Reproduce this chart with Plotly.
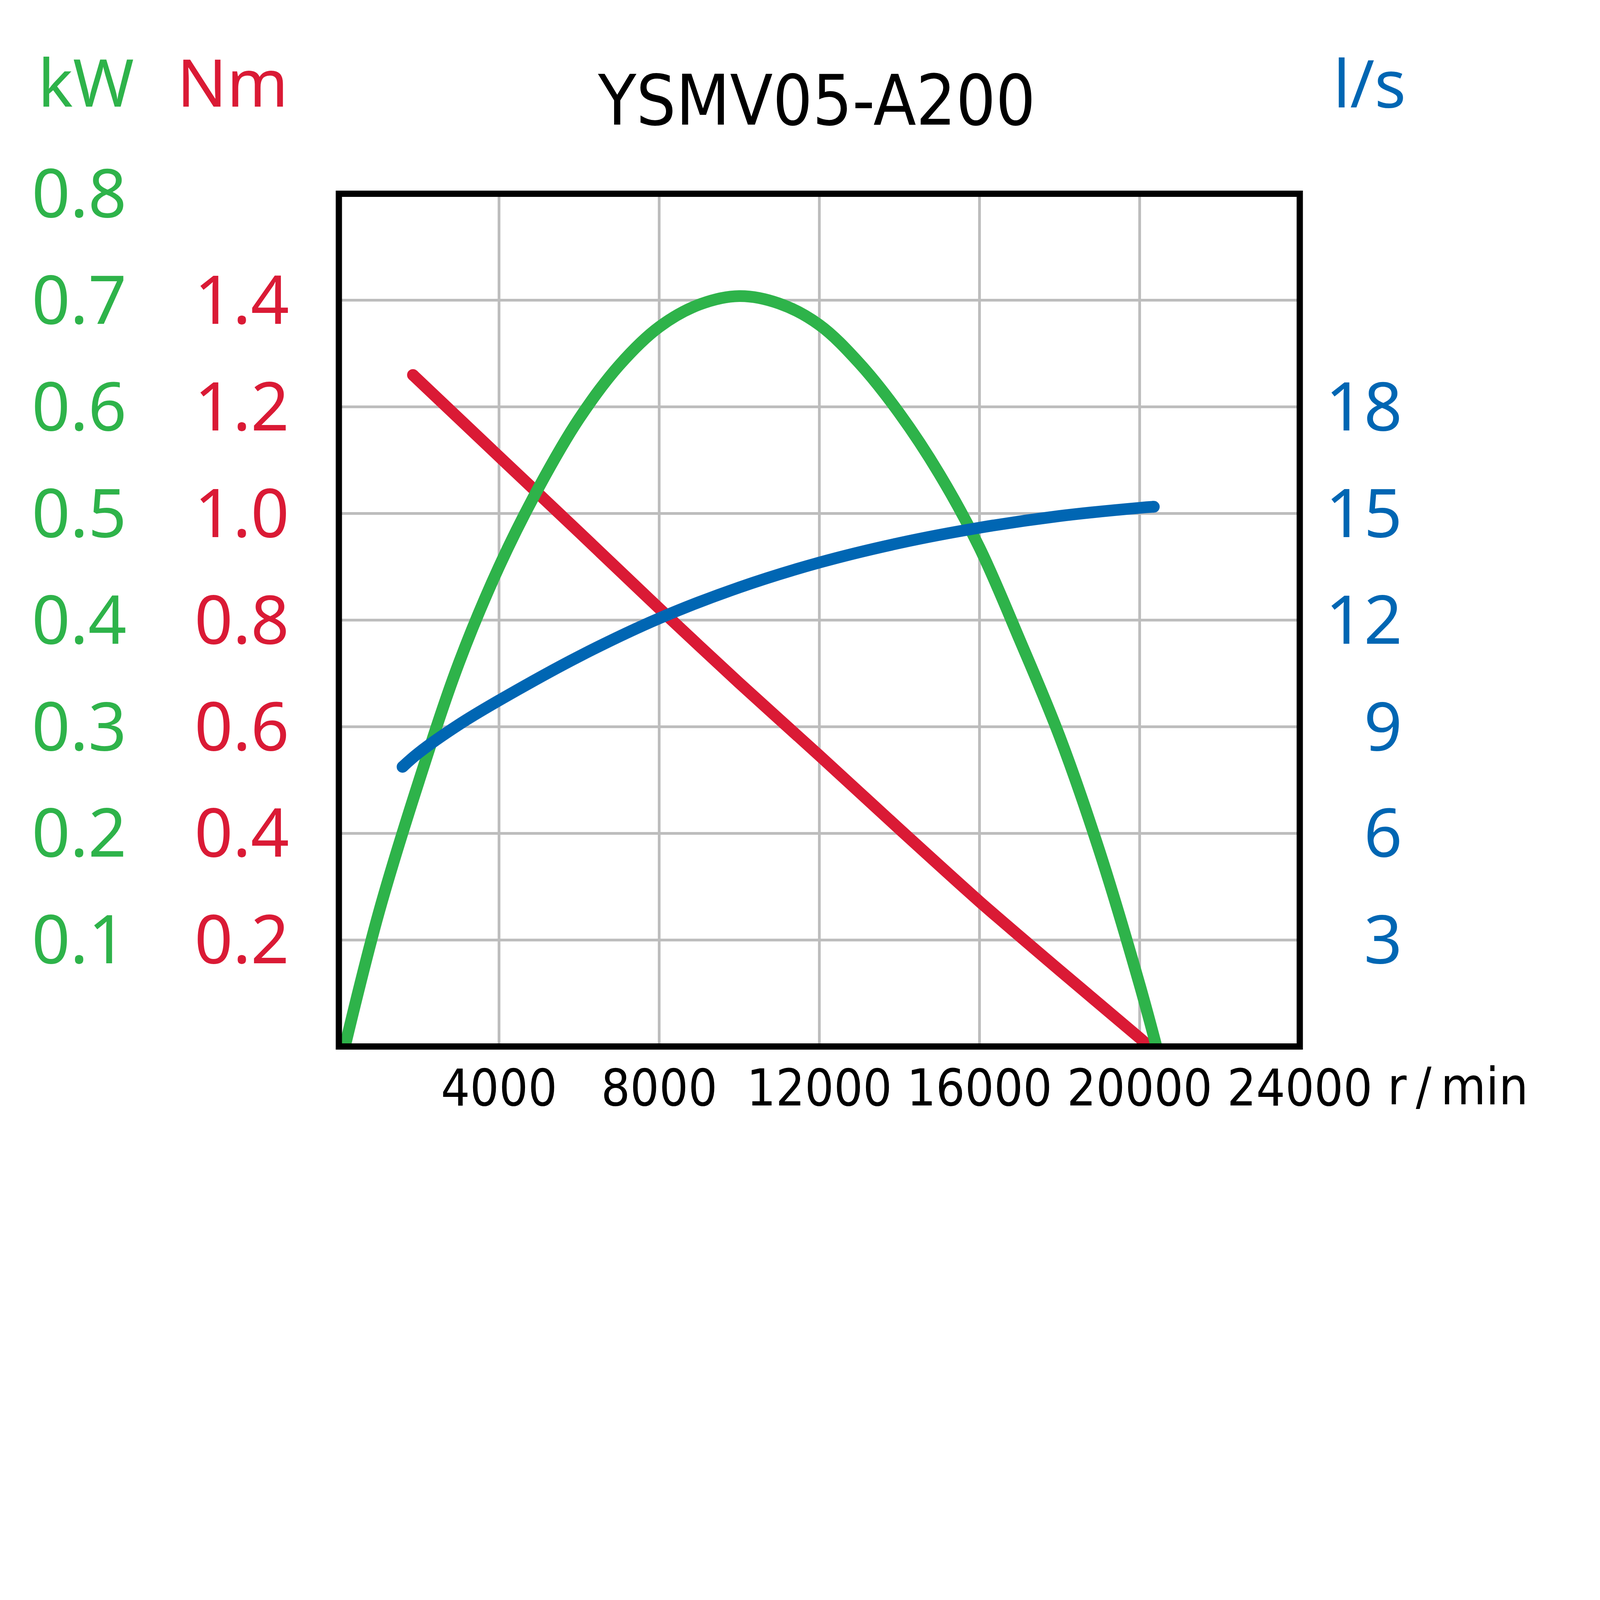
import plotly.graph_objects as go

# --- data --------------------------------------------------------------------
RPM_TICKS = [4000, 8000, 12000, 16000, 20000, 24000]
KW_TICKS = [0.1, 0.2, 0.3, 0.4, 0.5, 0.6, 0.7, 0.8]
NM_TICKS = [0.2, 0.4, 0.6, 0.8, 1.0, 1.2, 1.4]
LS_TICKS = [3, 6, 9, 12, 15, 18]

POWER_RPM = [150, 1000, 2000, 3000, 4000, 5000, 6000, 7000, 8000, 9000, 10000,
             11000, 12000, 13000, 14000, 15000, 16000, 17000, 18000, 19000,
             20000, 20420]
POWER_KW = [0.0, 0.126, 0.249, 0.360, 0.450, 0.525, 0.589, 0.639, 0.675, 0.696,
            0.704, 0.697, 0.677, 0.641, 0.594, 0.537, 0.468, 0.382, 0.291,
            0.183, 0.058, 0.0]

TORQUE_RPM = [1850, 4000, 6000, 8000, 10000, 12000, 14000, 16000, 18000,
              20000, 20240]
TORQUE_NM = [1.26, 1.107, 0.965, 0.822, 0.682, 0.546, 0.408, 0.272, 0.143,
             0.016, 0.0]

FLOW_RPM = [1590, 2000, 3000, 4000, 6000, 8000, 10000, 12000, 14000, 16000,
            18000, 20000, 20355]
FLOW_LS = [7.87, 8.27, 9.06, 9.74, 10.98, 12.05, 12.92, 13.62, 14.17, 14.60,
           14.93, 15.16, 15.19]

TITLE = "YSMV05-A200"

GREEN = "#2EB34A"
RED = "#DA1A35"
BLUE = "#0066B3"
GRID = "#BDBDBD"

# the browser shows ~4207 css px across the 7984 px photo; body margin is 8 px
K = 4207 / 7984
OFF = 8
W, H = 4080, 2910
ML, MR = 30, 30


def dev(v):
    """reference-photo pixel -> figure css pixel"""
    return v * K - OFF


PLOT_L, PLOT_R = dev(1715), dev(6587)
PLOT_T, PLOT_B = dev(942), dev(5085)
MT, MB = PLOT_T, H - PLOT_B
LINE_W = 30

LABEL_FONT = "Noto Sans, Open Sans, sans-serif"
NARROW_FONT = "DejaVu Sans Condensed, Liberation Sans Narrow, Roboto, sans-serif"


def px_x(x):
    return (x - ML) / (W - ML - MR)


def px_y(y):
    return (H - MB - y) / (H - MT - MB)


fig = go.Figure()

fig.add_scatter(
    x=POWER_RPM, y=POWER_KW, yaxis="y2", mode="lines",
    line=dict(color=GREEN, width=LINE_W, shape="spline", smoothing=1.0),
)
fig.add_scatter(
    x=FLOW_RPM, y=FLOW_LS, yaxis="y3", mode="lines+markers",
    line=dict(color=BLUE, width=LINE_W, shape="spline", smoothing=1.0),
    marker=dict(color=BLUE, opacity=1,
                size=[LINE_W] + [0] * (len(FLOW_RPM) - 2) + [LINE_W],
                line=dict(width=0)),
)
fig.add_scatter(
    x=TORQUE_RPM, y=TORQUE_NM, yaxis="y", mode="lines+markers",
    line=dict(color=RED, width=LINE_W, shape="spline", smoothing=0.6),
    marker=dict(color=RED, opacity=1,
                size=[LINE_W] + [0] * (len(TORQUE_RPM) - 1),
                line=dict(width=0)),
)

fig.update_layout(
    width=W, height=H,
    margin=dict(l=ML, r=MR, t=MT, b=MB, pad=0),
    paper_bgcolor="white", plot_bgcolor="white",
    showlegend=False,
    xaxis=dict(
        domain=[px_x(PLOT_L), px_x(PLOT_R)], range=[0, 24000],
        tickvals=RPM_TICKS, tickformat="d",
        showgrid=True, gridcolor=GRID, gridwidth=7, zeroline=False,
        showline=False, ticks="", ticklabelstandoff=20,
        tickfont=dict(family=NARROW_FONT, size=130, color="black"),
    ),
    yaxis=dict(
        range=[0, 1.6], tickvals=NM_TICKS, tickformat=".1f",
        showgrid=True, gridcolor=GRID, gridwidth=7, zeroline=False,
        showline=False, ticks="", ticklabelstandoff=126,
        tickfont=dict(family=LABEL_FONT, size=172, color=RED),
    ),
    yaxis2=dict(
        overlaying="y", anchor="free", position=px_x(dev(635) + 2), side="left",
        range=[0, 0.8], tickvals=KW_TICKS, tickformat=".1f",
        showgrid=False, zeroline=False, showline=False, ticks="",
        tickfont=dict(family=LABEL_FONT, size=172, color=GREEN),
    ),
    yaxis3=dict(
        overlaying="y", anchor="free", position=px_x(dev(7090) + 9), side="left",
        range=[0, 24], tickvals=LS_TICKS,
        showgrid=False, zeroline=False, showline=False, ticks="",
        tickfont=dict(family=LABEL_FONT, size=172, color=BLUE),
    ),
    shapes=[dict(
        type="rect", xref="x domain", yref="y domain", x0=0, x1=1, y0=0, y1=1,
        line=dict(color="black", width=16), layer="above",
    )],
)

annotations = [
    (TITLE, dev(4137), 250, "center", NARROW_FONT, 178, "black"),
    ("kW", dev(432), 200, "center", LABEL_FONT, 168, GREEN),
    ("Nm", dev(1176), 200, "center", LABEL_FONT, 168, RED),
    ("l/s", dev(6941), 202, "center", LABEL_FONT, 168, BLUE),
    ("r\u2009/\u2009min", dev(7046) - 10, 2773, "left", NARROW_FONT, 132, "black"),
]
for text, x, y, anchor, family, size, color in annotations:
    fig.add_annotation(
        text=text, xref="paper", yref="paper", x=px_x(x), y=px_y(y),
        xanchor=anchor, yanchor="middle", showarrow=False,
        font=dict(family=family, size=size, color=color),
    )

fig.write_html("out.html")
